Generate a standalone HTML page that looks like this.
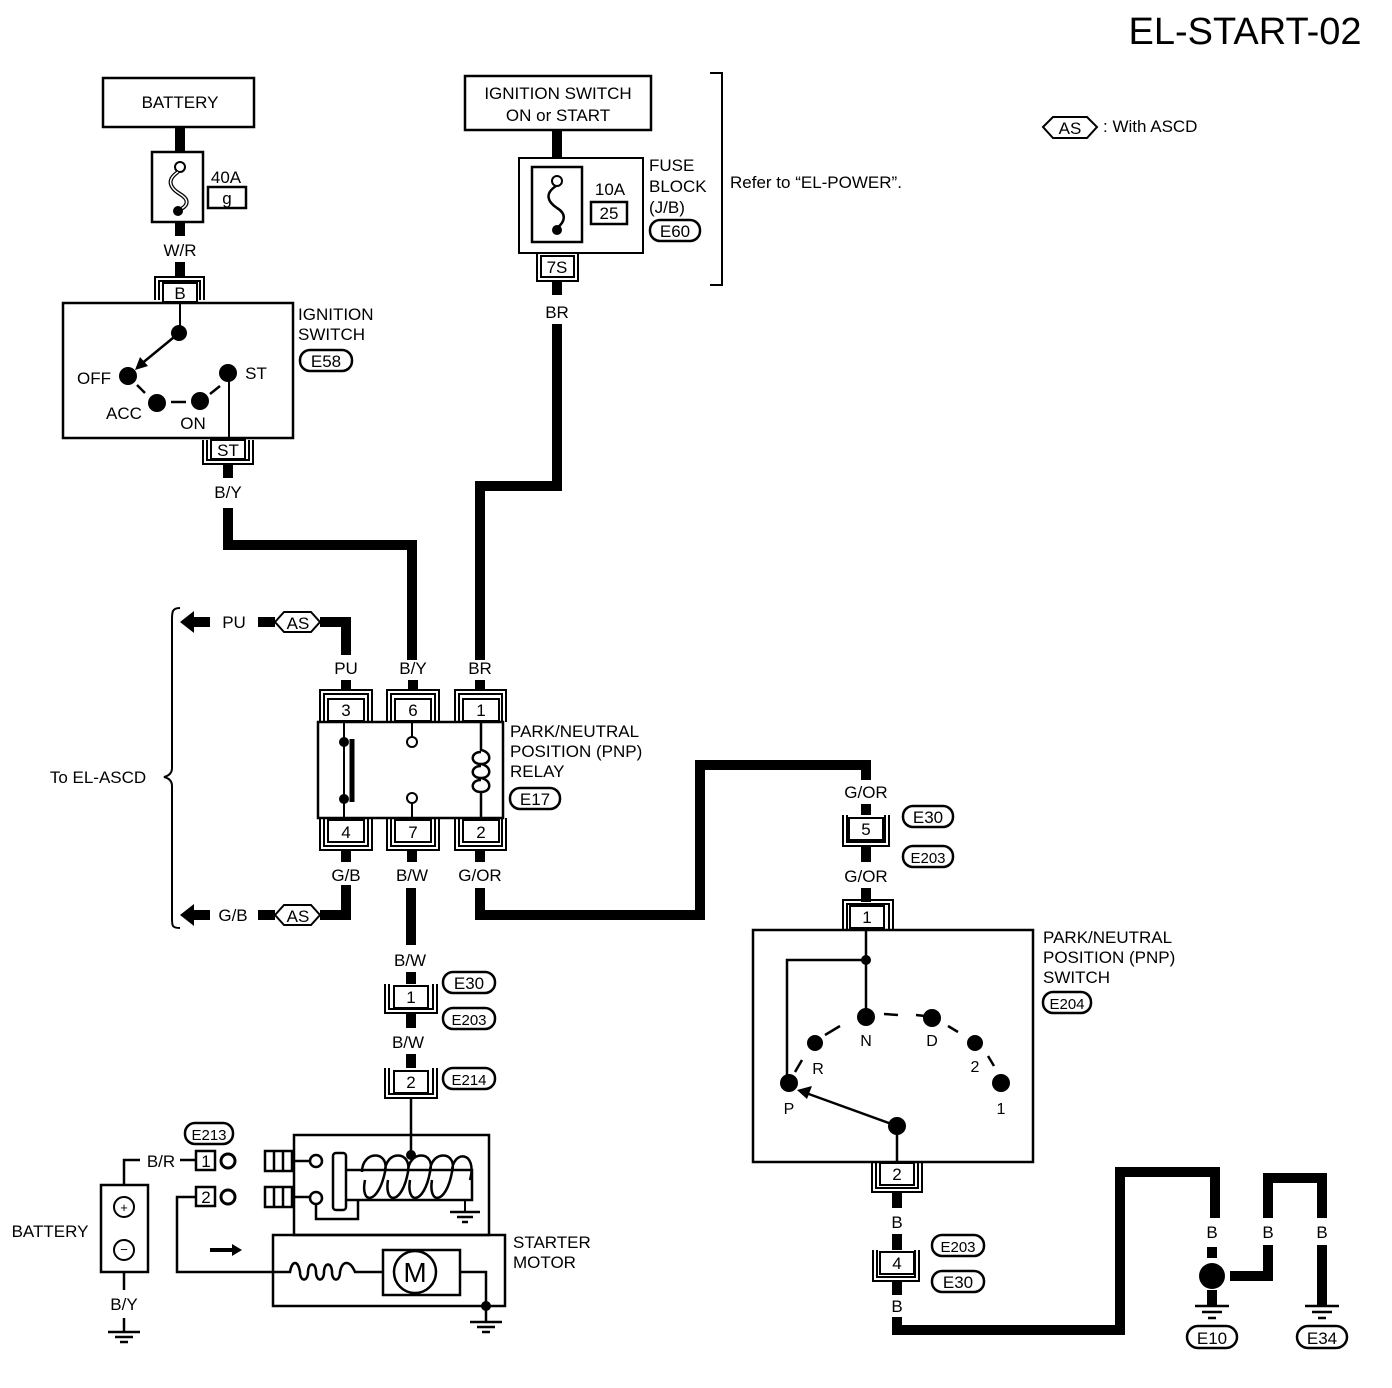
<!DOCTYPE html>
<html><head><style>
html,body{margin:0;padding:0;background:#fff;}
svg{display:block;}
text{font-family:"Liberation Sans",sans-serif;fill:#000;}
</style></head><body>
<svg width="1392" height="1388" viewBox="0 0 1392 1388" xmlns="http://www.w3.org/2000/svg">
<g font-size="17" text-anchor="middle">
<text x="1245" y="44" font-size="38" text-anchor="middle">EL-START-02</text>

<!-- Battery fuse -->
<rect x="103" y="78" width="151" height="49" fill="none" stroke="#000" stroke-width="2.5"/>
<text x="180" y="108">BATTERY</text>
<line x1="180" y1="127" x2="180" y2="152" stroke="#000" stroke-width="10"/>
<rect x="152" y="152" width="51" height="70" fill="none" stroke="#000" stroke-width="2.5"/>
<circle cx="180" cy="167" r="5" fill="#fff" stroke="#000" stroke-width="2"/>
<path d="M178 172 C166 180 170 188 180 194 C190 200 188 206 179 210" fill="none" stroke="#000" stroke-width="4"/>
<path d="M178 172 C166 180 170 188 180 194 C190 200 188 206 179 210" fill="none" stroke="#fff" stroke-width="1.5"/>
<circle cx="178" cy="211" r="5" fill="#000"/>
<text x="226" y="183">40A</text>
<rect x="208" y="187" width="38" height="21" fill="none" stroke="#000" stroke-width="2.5"/>
<text x="227" y="204">g</text>
<line x1="180" y1="222" x2="180" y2="236" stroke="#000" stroke-width="10"/>
<text x="180" y="256">W/R</text>
<line x1="180" y1="262" x2="180" y2="278" stroke="#000" stroke-width="10"/>
<path d="M155 300 V277 H204 V300" fill="none" stroke="#000" stroke-width="2"/>
<path d="M159 300 V281 H200 V300" fill="none" stroke="#000" stroke-width="2"/>
<rect x="163" y="283" width="34" height="19" fill="#fff" stroke="#000" stroke-width="2"/>
<text x="180" y="299">B</text>

<!-- Ignition switch -->
<rect x="63" y="303" width="230" height="135" fill="none" stroke="#000" stroke-width="2.5"/>
<line x1="180" y1="303" x2="180" y2="333" stroke="#000" stroke-width="2"/>
<circle cx="179" cy="333" r="8" fill="#000"/>
<line x1="179" y1="333" x2="140" y2="365" stroke="#000" stroke-width="2.5"/>
<polygon points="135,370 140,357 148,366" fill="#000"/>
<circle cx="128" cy="376" r="9" fill="#000"/>
<circle cx="157" cy="403" r="9" fill="#000"/>
<circle cx="200" cy="401" r="9" fill="#000"/>
<circle cx="228" cy="373" r="9" fill="#000"/>
<line x1="137" y1="385" x2="145" y2="393" stroke="#000" stroke-width="2.5"/>
<line x1="171" y1="402" x2="186" y2="402" stroke="#000" stroke-width="2.5"/>
<line x1="210" y1="394" x2="220" y2="386" stroke="#000" stroke-width="2.5"/>
<line x1="229" y1="373" x2="229" y2="442" stroke="#000" stroke-width="2"/>
<text x="94" y="384">OFF</text>
<text x="124" y="419">ACC</text>
<text x="193" y="429">ON</text>
<text x="256" y="379">ST</text>
<text x="298" y="320" text-anchor="start">IGNITION</text>
<text x="298" y="340" text-anchor="start">SWITCH</text>
<rect x="300" y="350" width="52" height="21" rx="10" fill="none" stroke="#000" stroke-width="2.5"/>
<text x="326" y="367">E58</text>
<path d="M203 440 V464 H253 V440" fill="none" stroke="#000" stroke-width="2"/>
<path d="M207 440 V460 H249 V440" fill="none" stroke="#000" stroke-width="2"/>
<rect x="211" y="440" width="34" height="19" fill="#fff" stroke="#000" stroke-width="2"/>
<text x="228" y="456">ST</text>
<line x1="228" y1="464" x2="228" y2="478" stroke="#000" stroke-width="10"/>
<text x="228" y="498">B/Y</text>
<path d="M228 508 V545 H412 V660" fill="none" stroke="#000" stroke-width="10"/>

<!-- Ignition switch ON or START / fuse block -->
<rect x="465" y="76" width="186" height="54" fill="none" stroke="#000" stroke-width="2.5"/>
<text x="558" y="99">IGNITION SWITCH</text>
<text x="558" y="121">ON or START</text>
<line x1="557" y1="130" x2="557" y2="158" stroke="#000" stroke-width="10"/>
<rect x="519" y="158" width="124" height="95" fill="none" stroke="#000" stroke-width="2"/>
<rect x="532" y="167" width="50" height="75" fill="none" stroke="#000" stroke-width="2.5"/>
<circle cx="557" cy="181" r="5" fill="#fff" stroke="#000" stroke-width="2"/>
<path d="M556 186 C544 194 548 202 557 208 C567 214 565 222 557 228" fill="none" stroke="#000" stroke-width="2.5"/>
<circle cx="557" cy="230" r="5" fill="#000"/>
<text x="610" y="195">10A</text>
<rect x="591" y="202" width="36" height="22" fill="none" stroke="#000" stroke-width="2.5"/>
<text x="609" y="219">25</text>
<text x="649" y="171" text-anchor="start">FUSE</text>
<text x="649" y="192" text-anchor="start">BLOCK</text>
<text x="649" y="213" text-anchor="start">(J/B)</text>
<rect x="650" y="220" width="50" height="21" rx="10" fill="none" stroke="#000" stroke-width="2.5"/>
<text x="675" y="237">E60</text>
<path d="M710 73 H722 V285 H710" fill="none" stroke="#000" stroke-width="2"/>
<text x="730" y="188" text-anchor="start">Refer to “EL-POWER”.</text>
<path d="M537 253 V281 H578 V253" fill="none" stroke="#000" stroke-width="2"/>
<rect x="541" y="256" width="33" height="21" fill="#fff" stroke="#000" stroke-width="2"/>
<text x="557" y="273">7S</text>
<line x1="557" y1="281" x2="557" y2="295" stroke="#000" stroke-width="10"/>
<text x="557" y="318">BR</text>
<path d="M557 324 V486 H480 V660" fill="none" stroke="#000" stroke-width="10"/>

<!-- legend -->
<polygon points="1043,127 1053,117 1087,117 1097,127 1087,138 1053,138" fill="none" stroke="#000" stroke-width="2"/>
<text x="1070" y="134">AS</text>
<text x="1103" y="132" text-anchor="start">: With ASCD</text>

<!-- relay -->
<text x="346" y="674">PU</text>
<text x="413" y="674">B/Y</text>
<text x="480" y="674">BR</text>
<path d="M346 655 V622 H320" fill="none" stroke="#000" stroke-width="10"/>
<polygon points="275,622 284,612 311,612 320,622 311,632 284,632" fill="#fff" stroke="#000" stroke-width="2"/>
<text x="298" y="629">AS</text>
<line x1="258" y1="622" x2="275" y2="622" stroke="#000" stroke-width="10"/>
<text x="234" y="628">PU</text>
<polygon points="180,622 194,611 194,617 210,617 210,627 194,627 194,633" fill="#000"/>
<path d="M346 885 V915 H320" fill="none" stroke="#000" stroke-width="10"/>
<polygon points="275,915 284,905 311,905 320,915 311,925 284,925" fill="#fff" stroke="#000" stroke-width="2"/>
<text x="298" y="922">AS</text>
<line x1="258" y1="915" x2="275" y2="915" stroke="#000" stroke-width="10"/>
<text x="233" y="921">G/B</text>
<polygon points="180,915 194,904 194,910 210,910 210,920 194,920 194,926" fill="#000"/>
<path d="M180 608 C172 608 172 612 172 620 V768 C172 774 168 776 164 777 C168 778 172 780 172 786 V918 C172 926 172 928 180 928" fill="none" stroke="#000" stroke-width="2"/>
<text x="98" y="783">To EL-ASCD</text>

<g stroke="#000" fill="none" stroke-width="2">
<path d="M320 722 V690 H372 V722"/><path d="M324 722 V694 H368 V722"/>
<path d="M387 722 V690 H439 V722"/><path d="M391 722 V694 H435 V722"/>
<path d="M455 722 V690 H506 V722"/><path d="M459 722 V694 H502 V722"/>
<path d="M320 818 V850 H372 V818"/><path d="M324 818 V846 H368 V818"/>
<path d="M387 818 V850 H439 V818"/><path d="M391 818 V846 H435 V818"/>
<path d="M455 818 V850 H506 V818"/><path d="M459 818 V846 H502 V818"/>
</g>
<g stroke="#000" stroke-width="10">
<line x1="346" y1="680" x2="346" y2="690"/><line x1="413" y1="680" x2="413" y2="690"/><line x1="480" y1="680" x2="480" y2="690"/>
<line x1="346" y1="850" x2="346" y2="862"/><line x1="412" y1="850" x2="412" y2="862"/><line x1="480" y1="850" x2="480" y2="862"/>
</g>
<g fill="#fff" stroke="#000" stroke-width="2">
<rect x="328" y="699" width="36" height="22"/><rect x="395" y="699" width="36" height="22"/><rect x="463" y="699" width="36" height="22"/>
<rect x="328" y="820" width="36" height="22"/><rect x="395" y="820" width="36" height="22"/><rect x="463" y="820" width="36" height="22"/>
</g>
<text x="346" y="716">3</text><text x="413" y="716">6</text><text x="481" y="716">1</text>
<text x="346" y="838">4</text><text x="413" y="838">7</text><text x="481" y="838">2</text>
<rect x="318" y="722" width="185" height="96" fill="none" stroke="#000" stroke-width="2.5"/>
<line x1="344" y1="722" x2="344" y2="818" stroke="#000" stroke-width="2"/>
<circle cx="344" cy="742" r="5" fill="#000"/><circle cx="344" cy="799" r="5" fill="#000"/>
<line x1="352" y1="739" x2="352" y2="802" stroke="#000" stroke-width="5"/>
<line x1="412" y1="722" x2="412" y2="738" stroke="#000" stroke-width="2"/>
<circle cx="412" cy="742" r="5" fill="#fff" stroke="#000" stroke-width="2"/>
<line x1="412" y1="803" x2="412" y2="818" stroke="#000" stroke-width="2"/>
<circle cx="412" cy="798" r="5" fill="#fff" stroke="#000" stroke-width="2"/>
<path d="M481 722 V750 C492 752 492 764 481 764 C470 764 470 752 481 752 M481 764 C492 766 492 778 481 778 C470 778 470 766 481 766 M481 778 C492 780 492 792 481 792 C470 792 470 780 481 780 M481 792 V818" fill="none" stroke="#000" stroke-width="2.5"/>
<text x="510" y="737" text-anchor="start">PARK/NEUTRAL</text>
<text x="510" y="757" text-anchor="start">POSITION (PNP)</text>
<text x="510" y="777" text-anchor="start">RELAY</text>
<rect x="510" y="788" width="50" height="21" rx="10" fill="none" stroke="#000" stroke-width="2.5"/>
<text x="535" y="805">E17</text>
<text x="346" y="881">G/B</text>
<text x="412" y="881">B/W</text>
<text x="480" y="881">G/OR</text>

<!-- G/OR route -->
<path d="M480 888 V915 H700 V765 H866 V780" fill="none" stroke="#000" stroke-width="10"/>
<text x="866" y="798">G/OR</text>
<line x1="866" y1="804" x2="866" y2="815" stroke="#000" stroke-width="10"/>
<path d="M843 815 V846 H889 V815" fill="none" stroke="#000" stroke-width="2"/>
<path d="M847 815 V842 H885 V815" fill="none" stroke="#000" stroke-width="2"/>
<rect x="849" y="818" width="34" height="22" fill="#fff" stroke="#000" stroke-width="2"/>
<text x="866" y="835">5</text>
<rect x="903" y="806" width="50" height="21" rx="10" fill="none" stroke="#000" stroke-width="2.5"/>
<text x="928" y="823">E30</text>
<rect x="903" y="846" width="50" height="21" rx="10" fill="none" stroke="#000" stroke-width="2.5"/>
<text x="928" y="863" font-size="15">E203</text>
<line x1="866" y1="846" x2="866" y2="862" stroke="#000" stroke-width="10"/>
<text x="866" y="882">G/OR</text>
<line x1="866" y1="888" x2="866" y2="902" stroke="#000" stroke-width="10"/>
<path d="M843 930 V900 H893 V930" fill="none" stroke="#000" stroke-width="2"/>
<path d="M847 930 V904 H889 V930" fill="none" stroke="#000" stroke-width="2"/>
<rect x="850" y="906" width="34" height="22" fill="#fff" stroke="#000" stroke-width="2"/>
<text x="867" y="923">1</text>

<!-- PNP switch -->
<rect x="753" y="930" width="280" height="232" fill="none" stroke="#000" stroke-width="2.5"/>
<path d="M866 930 V1017 M866 960 H787 V1075" fill="none" stroke="#000" stroke-width="2.5"/>
<circle cx="866" cy="960" r="5" fill="#000"/>
<g fill="#000">
<circle cx="789" cy="1083" r="9"/><circle cx="815" cy="1043" r="8"/><circle cx="866" cy="1017" r="9"/>
<circle cx="932" cy="1018" r="9"/><circle cx="975" cy="1043" r="8"/><circle cx="1001" cy="1083" r="9"/>
<circle cx="897" cy="1126" r="9"/>
</g>
<path d="M795 1072 L802 1060 M825 1035 L840 1026 M884 1014 L898 1015 M916 1015 L925 1016 M948 1026 L958 1032 M988 1056 L994 1066" fill="none" stroke="#000" stroke-width="2.5"/>
<line x1="897" y1="1126" x2="806" y2="1093" stroke="#000" stroke-width="2.5"/>
<polygon points="797,1090 812,1086 807,1099" fill="#000"/>
<line x1="897" y1="1126" x2="897" y2="1162" stroke="#000" stroke-width="2.5"/>
<g font-size="16">
<text x="818" y="1074">R</text><text x="866" y="1046">N</text><text x="932" y="1046">D</text>
<text x="975" y="1072">2</text><text x="1001" y="1114">1</text><text x="789" y="1114">P</text>
</g>
<text x="1043" y="943" text-anchor="start">PARK/NEUTRAL</text>
<text x="1043" y="963" text-anchor="start">POSITION (PNP)</text>
<text x="1043" y="983" text-anchor="start">SWITCH</text>
<rect x="1043" y="992" width="48" height="21" rx="10" fill="none" stroke="#000" stroke-width="2.5"/>
<text x="1067" y="1009" font-size="15">E204</text>
<path d="M872 1162 V1192 H922 V1162" fill="none" stroke="#000" stroke-width="2"/>
<path d="M876 1162 V1188 H918 V1162" fill="none" stroke="#000" stroke-width="2"/>
<rect x="880" y="1163" width="34" height="22" fill="#fff" stroke="#000" stroke-width="2"/>
<text x="897" y="1180">2</text>
<line x1="897" y1="1192" x2="897" y2="1208" stroke="#000" stroke-width="10"/>
<text x="897" y="1228">B</text>
<line x1="897" y1="1234" x2="897" y2="1250" stroke="#000" stroke-width="10"/>
<path d="M873 1250 V1281 H919 V1250" fill="none" stroke="#000" stroke-width="2"/>
<path d="M877 1250 V1277 H915 V1250" fill="none" stroke="#000" stroke-width="2"/>
<rect x="880" y="1252" width="34" height="22" fill="#fff" stroke="#000" stroke-width="2"/>
<text x="897" y="1269">4</text>
<rect x="932" y="1235" width="52" height="21" rx="10" fill="none" stroke="#000" stroke-width="2.5"/>
<text x="958" y="1252" font-size="15">E203</text>
<rect x="932" y="1271" width="52" height="21" rx="10" fill="none" stroke="#000" stroke-width="2.5"/>
<text x="958" y="1288">E30</text>
<line x1="897" y1="1281" x2="897" y2="1295" stroke="#000" stroke-width="10"/>
<text x="897" y="1312">B</text>
<path d="M897 1317 V1330 H1120 V1172 H1215 V1218" fill="none" stroke="#000" stroke-width="10"/>
<text x="1212" y="1238">B</text>
<line x1="1212" y1="1247" x2="1212" y2="1258" stroke="#000" stroke-width="10"/>
<circle cx="1212" cy="1276" r="13" fill="#000"/>
<path d="M1230 1276 H1268 V1245" fill="none" stroke="#000" stroke-width="10"/>
<text x="1268" y="1238">B</text>
<path d="M1268 1218 V1178 H1322 V1218" fill="none" stroke="#000" stroke-width="10"/>
<text x="1322" y="1238">B</text>
<line x1="1322" y1="1245" x2="1322" y2="1305" stroke="#000" stroke-width="10"/>
<line x1="1212" y1="1290" x2="1212" y2="1305" stroke="#000" stroke-width="10"/>
<g stroke="#000" stroke-width="2.5">
<line x1="1195" y1="1306" x2="1229" y2="1306"/><line x1="1202" y1="1312" x2="1222" y2="1312"/><line x1="1208" y1="1318" x2="1216" y2="1318"/>
<line x1="1305" y1="1306" x2="1339" y2="1306"/><line x1="1312" y1="1312" x2="1332" y2="1312"/><line x1="1318" y1="1318" x2="1326" y2="1318"/>
</g>
<rect x="1187" y="1326" width="50" height="22" rx="11" fill="none" stroke="#000" stroke-width="2.5"/>
<text x="1212" y="1344">E10</text>
<rect x="1297" y="1326" width="50" height="22" rx="11" fill="none" stroke="#000" stroke-width="2.5"/>
<text x="1322" y="1344">E34</text>

<!-- B/W down to starter -->
<line x1="411" y1="888" x2="411" y2="945" stroke="#000" stroke-width="10"/>
<text x="410" y="966">B/W</text>
<line x1="411" y1="972" x2="411" y2="984" stroke="#000" stroke-width="10"/>
<path d="M385 984 V1013 H437 V984" fill="none" stroke="#000" stroke-width="2"/>
<path d="M389 984 V1009 H433 V984" fill="none" stroke="#000" stroke-width="2"/>
<rect x="394" y="986" width="34" height="22" fill="#fff" stroke="#000" stroke-width="2"/>
<text x="411" y="1003">1</text>
<rect x="443" y="972" width="52" height="21" rx="10" fill="none" stroke="#000" stroke-width="2.5"/>
<text x="469" y="989">E30</text>
<rect x="443" y="1008" width="52" height="21" rx="10" fill="none" stroke="#000" stroke-width="2.5"/>
<text x="469" y="1025" font-size="15">E203</text>
<line x1="411" y1="1013" x2="411" y2="1028" stroke="#000" stroke-width="10"/>
<text x="408" y="1048">B/W</text>
<line x1="411" y1="1054" x2="411" y2="1068" stroke="#000" stroke-width="10"/>
<path d="M385 1068 V1098 H437 V1068" fill="none" stroke="#000" stroke-width="2"/>
<path d="M389 1068 V1094 H433 V1068" fill="none" stroke="#000" stroke-width="2"/>
<rect x="394" y="1071" width="34" height="22" fill="#fff" stroke="#000" stroke-width="2"/>
<text x="411" y="1088">2</text>
<rect x="443" y="1068" width="52" height="21" rx="10" fill="none" stroke="#000" stroke-width="2.5"/>
<text x="469" y="1085" font-size="15">E214</text>
<line x1="411" y1="1098" x2="411" y2="1155" stroke="#000" stroke-width="2.5"/>

<!-- starter -->
<rect x="294" y="1135" width="195" height="100" fill="none" stroke="#000" stroke-width="2.5"/>
<rect x="273" y="1235" width="232" height="71" fill="none" stroke="#000" stroke-width="2.5"/>
<circle cx="411" cy="1155" r="5" fill="#000"/>
<rect x="333" y="1153" width="13" height="57" rx="3" fill="none" stroke="#000" stroke-width="2.5"/>
<path d="M346 1170 H472 V1200 H346" fill="none" stroke="#000" stroke-width="2.5"/>
<path d="M362 1172 C362 1150 390 1150 385 1172 C378 1205 360 1205 365 1180 M385 1172 C385 1150 412 1150 408 1172 C402 1205 384 1205 388 1180 M408 1172 C408 1150 436 1150 430 1172 C424 1205 406 1205 410 1180 M430 1172 C430 1150 458 1150 452 1172 C446 1205 428 1205 432 1180 M452 1172 C452 1150 478 1150 470 1180" fill="none" stroke="#000" stroke-width="2.5"/>
<line x1="465" y1="1200" x2="465" y2="1212" stroke="#000" stroke-width="2"/>
<line x1="450" y1="1212" x2="480" y2="1212" stroke="#000" stroke-width="2.5"/>
<line x1="457" y1="1217" x2="473" y2="1217" stroke="#000" stroke-width="2.5"/>
<line x1="462" y1="1222" x2="468" y2="1222" stroke="#000" stroke-width="2.5"/>
<g fill="none" stroke="#000" stroke-width="2.5">
<rect x="265" y="1151" width="27" height="20"/><line x1="274" y1="1151" x2="274" y2="1171"/><line x1="283" y1="1151" x2="283" y2="1171"/>
<rect x="265" y="1187" width="27" height="20"/><line x1="274" y1="1187" x2="274" y2="1207"/><line x1="283" y1="1187" x2="283" y2="1207"/>
<line x1="292" y1="1161" x2="310" y2="1161"/><line x1="292" y1="1197" x2="310" y2="1197"/>
<circle cx="316" cy="1161" r="6" fill="#fff"/><circle cx="316" cy="1198" r="6" fill="#fff"/>
<path d="M316 1204 V1219 H358 V1200"/>
<path d="M273 1272 H290 C292 1260 298 1260 300 1272 C300 1282 308 1282 308 1272 C308 1262 316 1262 316 1272 C316 1282 324 1282 324 1272 C324 1262 332 1262 332 1272 C332 1282 340 1282 340 1272 C342 1260 350 1260 355 1272 H383"/>
<rect x="383" y="1250" width="77" height="45"/>
<circle cx="415" cy="1272" r="21" fill="#fff"/>
<path d="M460 1272 H486 V1306"/>
<line x1="486" y1="1306" x2="486" y2="1322"/>
<line x1="470" y1="1322" x2="502" y2="1322"/><line x1="477" y1="1327" x2="495" y2="1327"/><line x1="482" y1="1332" x2="490" y2="1332"/>
</g>
<circle cx="486" cy="1306" r="5" fill="#000"/>
<text x="415" y="1282" font-size="28">M</text>
<text x="513" y="1248" text-anchor="start">STARTER</text>
<text x="513" y="1268" text-anchor="start">MOTOR</text>
<polygon points="210,1248 232,1248 232,1244 242,1250 232,1256 232,1252 210,1252" fill="#000"/>

<!-- small battery -->
<rect x="185" y="1123" width="48" height="21" rx="10" fill="none" stroke="#000" stroke-width="2.5"/>
<text x="209" y="1140" font-size="15">E213</text>
<rect x="101" y="1185" width="47" height="87" fill="none" stroke="#000" stroke-width="2.5"/>
<circle cx="124" cy="1207" r="10" fill="none" stroke="#000" stroke-width="2"/>
<text x="124" y="1212" font-size="13">+</text>
<circle cx="124" cy="1250" r="10" fill="none" stroke="#000" stroke-width="2"/>
<text x="124" y="1254" font-size="13">−</text>
<path d="M124 1185 V1160 H140 M180 1160 H196" fill="none" stroke="#000" stroke-width="2.5"/>
<text x="161" y="1167">B/R</text>
<rect x="196" y="1151" width="19" height="19" fill="none" stroke="#000" stroke-width="2.5"/>
<text x="206" y="1167">1</text>
<circle cx="228" cy="1161" r="7" fill="none" stroke="#000" stroke-width="3"/>
<rect x="196" y="1187" width="19" height="19" fill="none" stroke="#000" stroke-width="2.5"/>
<text x="206" y="1203">2</text>
<circle cx="228" cy="1197" r="7" fill="none" stroke="#000" stroke-width="3"/>
<path d="M196 1197 H177 V1272 H273" fill="none" stroke="#000" stroke-width="2.5"/>
<text x="50" y="1237">BATTERY</text>
<line x1="124" y1="1272" x2="124" y2="1290" stroke="#000" stroke-width="2.5"/>
<text x="124" y="1310">B/Y</text>
<line x1="124" y1="1318" x2="124" y2="1332" stroke="#000" stroke-width="2.5"/>
<g stroke="#000" stroke-width="2.5">
<line x1="108" y1="1332" x2="140" y2="1332"/><line x1="115" y1="1337" x2="133" y2="1337"/><line x1="120" y1="1342" x2="128" y2="1342"/>
</g>
</g>
</svg>
</body></html>
